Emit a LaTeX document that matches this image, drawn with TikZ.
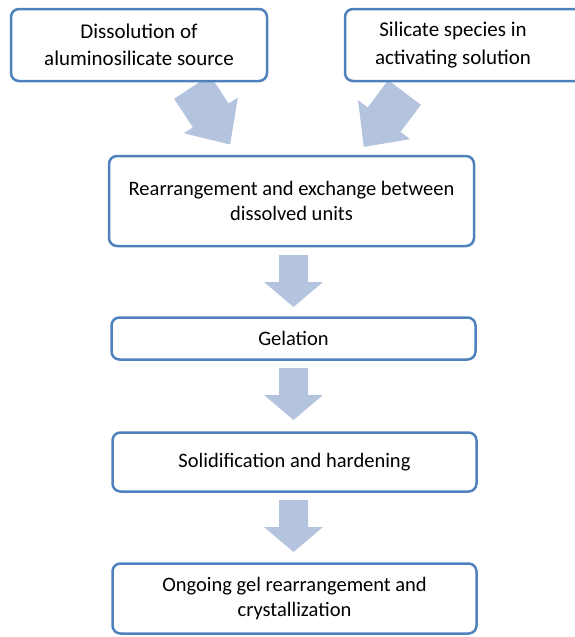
\documentclass[tikz,border=0pt]{standalone}
\usepackage{fontspec}
\setmainfont{Carlito}
\definecolor{boxline}{RGB}{79,129,189}
\definecolor{blkfill}{RGB}{180,196,222}
\tikzset{
  box/.style={draw=boxline, line width=2.5pt, rounded corners=8pt, fill=white,
    align=center, inner sep=0pt},
  bigtxt/.style={font=\fontsize{21}{27.5}\selectfont, align=center, inner sep=0pt},
  txt/.style={font=\fontsize{20.5}{25}\selectfont},
  vblk/.pic={\fill[blkfill] (-14.5,0) -- (14.5,0) -- (14.5,27) -- (29.5,27) -- (0,52)
      -- (-29.5,27) -- (-14.5,27) -- cycle;}
}
\begin{document}
\begin{tikzpicture}[x=1pt,y=-1pt]
\useasboundingbox (0,0) rectangle (575,637);
% diagonal block arrows (behind the boxes)
\fill[blkfill] (174.1,98.9) -- (192.9,127.3) -- (183.7,133.3) -- (230.1,144.5)
  -- (237.9,97.5) -- (228.7,103.5) -- (209.9,75.1) -- cycle;
\fill[blkfill] (420.9,104.8) -- (400.5,132) -- (410.1,139.2) -- (363.7,146.9)
  -- (358.1,100.2) -- (367.7,107.4) -- (388.1,80.2) -- cycle;
% vertical block arrows
\coordinate (a1) at (293.5,255);
\coordinate (a2) at (293.5,368);
\coordinate (a3) at (293.5,500);
\pic at (a1) {vblk};
\pic at (a2) {vblk};
\pic at (a3) {vblk};
% boxes
\node[box, minimum width=256pt, minimum height=72pt] (b1) at (139,45) {};
\node[bigtxt] (t1) at (b1.center) {Dissolution of\\aluminosilicate source};
\node[box, minimum width=255pt, minimum height=72pt] (b2) at (472.5,45) {};
\node[bigtxt] (t2) at (453,45) {Silicate species in\\activating solution};
\node[box, txt, minimum width=365pt, minimum height=90pt] (b3) at (291.5,201)
  {Rearrangement and exchange between\\dissolved units};
\node[box, txt, minimum width=364pt, minimum height=42pt] (b4) at (293.5,338.5)
  {Gelation};
\node[box, txt, minimum width=364pt, minimum height=59pt] (b5) at (294.5,462)
  {Solidification and hardening};
\node[box, txt, minimum width=364pt, minimum height=70pt] (b6) at (294.5,598.5)
  {Ongoing gel rearrangement and\\crystallization};
\end{tikzpicture}
\end{document}
